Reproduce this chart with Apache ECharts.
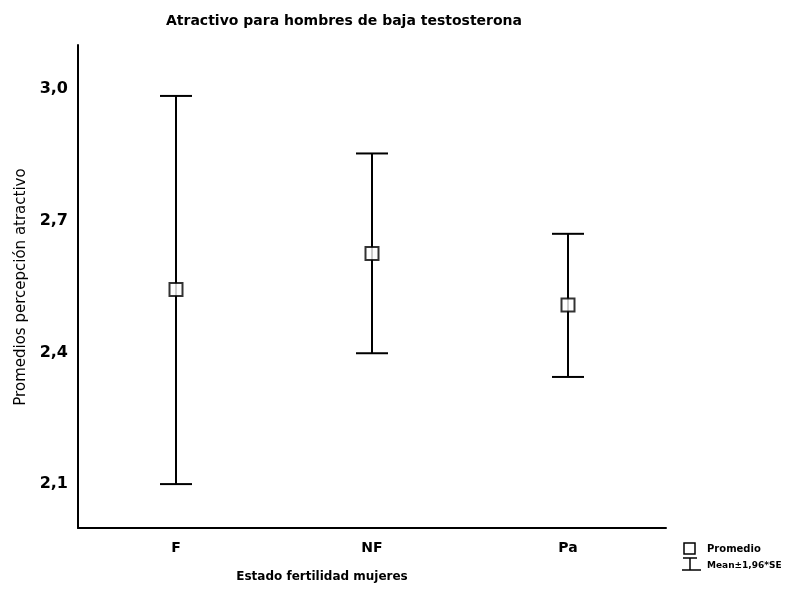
<!DOCTYPE html>
<html>
<head>
<meta charset="utf-8">
<script src="https://cdn.jsdelivr.net/npm/echarts@6/dist/echarts.min.js"></script>
<style>
  html, body { margin: 0; padding: 0; background: #fff; }
  #chart { width: 794px; height: 592px; }
</style>
</head>
<body>
<div id="chart"></div>
<script>
// Group labels and per-group statistics
const categories = ['F', 'NF', 'Pa'];
const means = [2.543, 2.625, 2.508];
const lowerCI = [2.100, 2.398, 2.344];
const upperCI = [2.984, 2.853, 2.670];
const yTickLabels = [2.1, 2.4, 2.7, 3.0];

const chart = echarts.init(document.getElementById('chart'));

const errorData = categories.map((c, i) => [i, lowerCI[i], upperCI[i]]);
const meanData = categories.map((c, i) => [i, means[i]]);

const CAP = 16;

chart.setOption({
  animation: false,
  backgroundColor: '#ffffff',
  grid: { left: 78, right: 128, top: 45, bottom: 64 },
  xAxis: {
    type: 'category',
    data: categories,
    axisLine: { lineStyle: { color: '#000', width: 2 } },
    axisTick: { show: false },
    axisLabel: {
      margin: 13,
      color: '#000',
      fontFamily: 'DejaVu Sans',
      fontWeight: 'bold',
      fontSize: 14
    },
    splitLine: { show: false }
  },
  yAxis: {
    type: 'value',
    min: 2.0,
    max: 3.1,
    interval: 0.1,
    axisLine: { show: true, lineStyle: { color: '#000', width: 2 } },
    axisTick: { show: false },
    splitLine: { show: false },
    axisLabel: {
      margin: 10,
      color: '#000',
      fontFamily: 'DejaVu Sans',
      fontWeight: 'bold',
      fontSize: 16,
      formatter: function (v) {
        const hit = yTickLabels.find(t => Math.abs(t - v) < 1e-6);
        return hit === undefined ? '' : hit.toFixed(1).replace('.', ',');
      }
    }
  },
  series: [
    {
      type: 'custom',
      data: errorData,
      z: 2,
      renderItem: function (params, api) {
        const x = api.value(0);
        const lo = api.coord([x, api.value(1)]);
        const hi = api.coord([x, api.value(2)]);
        const style = { stroke: '#000', lineWidth: 2 };
        return {
          type: 'group',
          children: [
            { type: 'line', shape: { x1: lo[0], y1: lo[1], x2: hi[0], y2: hi[1] }, style: style },
            { type: 'line', shape: { x1: lo[0] - CAP, y1: lo[1], x2: lo[0] + CAP, y2: lo[1] }, style: style },
            { type: 'line', shape: { x1: hi[0] - CAP, y1: hi[1], x2: hi[0] + CAP, y2: hi[1] }, style: style }
          ]
        };
      }
    },
    {
      type: 'scatter',
      data: meanData,
      z: 3,
      symbol: 'rect',
      symbolSize: 13,
      itemStyle: { color: '#fff', borderColor: '#000', borderWidth: 2 }
    }
  ],
  graphic: [
    {
      type: 'text',
      x: 344,
      y: 21,
      style: {
        text: 'Atractivo para hombres de baja testosterona',
        textAlign: 'center',
        textVerticalAlign: 'middle',
        fontFamily: 'DejaVu Sans',
        fontWeight: 'bold',
        fontSize: 14,
        fill: '#000'
      }
    },
    {
      type: 'text',
      x: 322,
      y: 577,
      style: {
        text: 'Estado fertilidad mujeres',
        textAlign: 'center',
        textVerticalAlign: 'middle',
        fontFamily: 'DejaVu Sans',
        fontWeight: 'bold',
        fontSize: 12,
        fill: '#000'
      }
    },
    {
      type: 'text',
      x: 21,
      y: 287,
      rotation: Math.PI / 2,
      style: {
        text: 'Promedios percepción atractivo',
        textAlign: 'center',
        textVerticalAlign: 'middle',
        fontFamily: 'DejaVu Sans',
        fontSize: 15,
        fill: '#000'
      }
    },
    // legend: mean marker
    {
      type: 'rect',
      shape: { x: 684, y: 543, width: 11, height: 11 },
      style: { fill: '#fff', stroke: '#000', lineWidth: 1.5 }
    },
    {
      type: 'text',
      x: 707, y: 549,
      style: {
        text: 'Promedio',
        textVerticalAlign: 'middle',
        fontFamily: 'DejaVu Sans',
        fontWeight: 'bold',
        fontSize: 10,
        fill: '#000'
      }
    },
    // legend: error bar glyph
    {
      type: 'group',
      children: [
        { type: 'line', shape: { x1: 683, y1: 558, x2: 697, y2: 558 }, style: { stroke: '#000', lineWidth: 1.5 } },
        { type: 'line', shape: { x1: 690, y1: 558, x2: 690, y2: 570 }, style: { stroke: '#000', lineWidth: 1.5 } },
        { type: 'line', shape: { x1: 682, y1: 570, x2: 701, y2: 570 }, style: { stroke: '#000', lineWidth: 1.5 } }
      ]
    },
    {
      type: 'text',
      x: 707, y: 566,
      style: {
        text: 'Mean±1,96*SE',
        textVerticalAlign: 'middle',
        fontFamily: 'DejaVu Sans',
        fontWeight: 'bold',
        fontSize: 9,
        fill: '#000'
      }
    }
  ]
});
</script>
</body>
</html>
